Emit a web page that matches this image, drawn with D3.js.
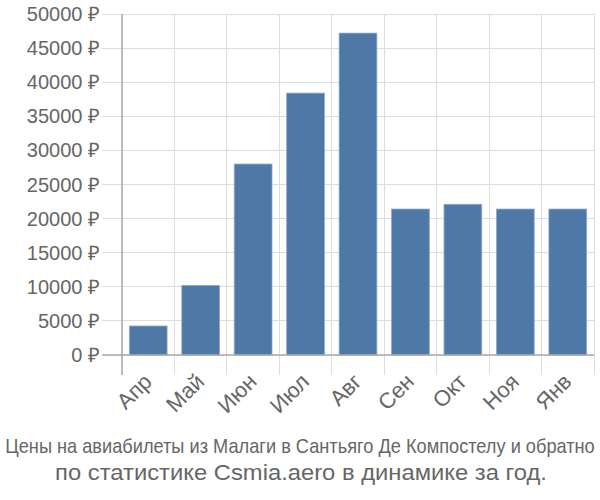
<!DOCTYPE html>
<html><head><meta charset="utf-8">
<script src="https://cdn.jsdelivr.net/npm/d3@7"></script>
<style>body{margin:0;background:#fff}svg{display:block;font-family:"Liberation Sans",Arial,sans-serif}</style>
</head><body><svg id="c" width="600" height="500"></svg>
<script>
const categories = ["Апр","Май","Июн","Июл","Авг","Сен","Окт","Ноя","Янв"];
const values = [4250, 10200, 28000, 38400, 47200, 21400, 22100, 21400, 21400];
const yTicks = [0,5000,10000,15000,20000,25000,30000,35000,40000,45000,50000];
const titleLines = ["Цены на авиабилеты из Малаги в Сантьяго Де Компостелу и обратно","по статистике Csmia.aero в динамике за год."];

const svg = d3.select("#c");
const L = 122, R = 594, T = 14, B = 355;
const x = d3.scaleBand().domain(categories).range([L, R]).paddingInner(0.28).paddingOuter(0.14);
const xb = d3.scaleBand().domain(categories).range([L, R]);
const y = d3.scaleLinear().domain([0, 50000]).range([B, T]);

// horizontal grid + left ticks
svg.append("g").selectAll("line").data(yTicks).join("line")
  .attr("x1", 102).attr("x2", R).attr("y1", d => y(d)).attr("y2", d => y(d))
  .attr("stroke", "#dddddd").attr("stroke-width", 1).attr("shape-rendering","crispEdges");
// vertical grid + bottom ticks
const vx = categories.map(c => xb(c)).concat([R]);
svg.append("g").selectAll("line").data(vx).join("line")
  .attr("x1", d => d).attr("x2", d => d).attr("y1", T).attr("y2", B + 20)
  .attr("stroke", "#dddddd").attr("stroke-width", 1).attr("shape-rendering","crispEdges");

// bars
svg.append("g").selectAll("rect").data(values).join("rect")
  .attr("x", (d,i) => x(categories[i])).attr("width", x.bandwidth())
  .attr("y", d => y(d)).attr("height", d => B - y(d))
  .attr("fill", "#4e78a6").attr("stroke", "#8fa9c8").attr("stroke-width", 0.8);

// axes lines
svg.append("line").attr("x1", L).attr("x2", L).attr("y1", T).attr("y2", B + 20)
  .attr("stroke", "#aaaaaa").attr("stroke-width", 1.5);
svg.append("line").attr("x1", 102).attr("x2", R).attr("y1", B).attr("y2", B)
  .attr("stroke", "#aaaaaa").attr("stroke-width", 1.5);

// y labels
svg.append("g").selectAll("text").data(yTicks).join("text")
  .attr("x", 100).attr("y", d => y(d)).attr("dy", "0.35em")
  .attr("text-anchor", "end").attr("fill", "#666666").attr("font-size", 20)
  .text(d => d + " ₽");

// x labels
svg.append("g").selectAll("text").data(categories).join("text")
  .attr("text-anchor", "end").attr("fill", "#666666").attr("font-size", 22)
  .attr("transform", d => `translate(${xb(d) + xb.bandwidth()/2 + 5},${B + 28}) rotate(-45)`)
  .text(d => d);

// title (fitted by horizontal scaling)
function fitted(txt, cx, cy, size, width) {
  const t = svg.append("text").attr("text-anchor", "middle")
    .attr("fill", "#666666").attr("font-size", size).text(txt);
  const w = t.node().getComputedTextLength();
  t.attr("transform", `translate(${cx},${cy}) scale(${width / w},1)`);
}
fitted(titleLines[0], 300, 453, 20, 590);
fitted(titleLines[1], 301, 480, 22, 492);
</script></body></html>
